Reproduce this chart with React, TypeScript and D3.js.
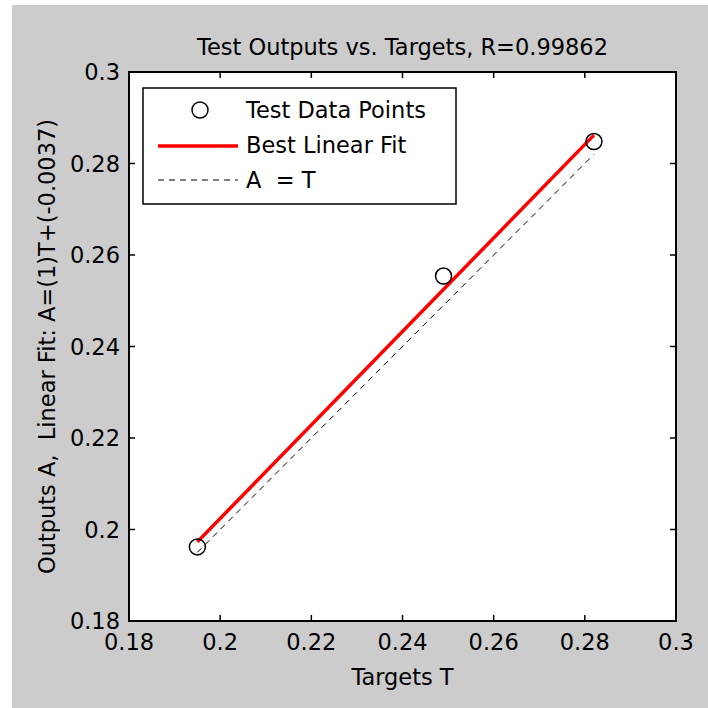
import React from 'react';
import * as d3 from 'd3';

// test data points
const targets = [0.195, 0.249, 0.282];
const outputs = [0.1962, 0.2554, 0.2848];

// best linear fit end points
const fitT = [0.195, 0.282];
const fitA = [0.1973, 0.2862];

const xTicks = [0.18, 0.2, 0.22, 0.24, 0.26, 0.28, 0.3];
const yTicks = [0.18, 0.2, 0.22, 0.24, 0.26, 0.28, 0.3];

const titleText = 'Test Outputs vs. Targets, R=0.99862';
const xLabel = 'Targets T';
const yLabel = 'Outputs A,  Linear Fit: A=(1)T+(-0.0037)';
const legendLabels = ['Test Data Points', 'Best Linear Fit', 'A  = T'];

const W = 708;
const H = 708;
const left = 129, right = 676, top = 72, bottom = 621;
const FONT = '"DejaVu Sans", sans-serif';
const FS = 22.5;
const TICK = 6;

export default function App() {
  const x = d3.scaleLinear().domain([0.18, 0.3]).range([left, right]);
  const y = d3.scaleLinear().domain([0.18, 0.3]).range([bottom, top]);

  const line = d3.line<number[]>().x(d => x(d[0])).y(d => y(d[1]));
  const fitPts = fitT.map((t, i) => [t, fitA[i]]);
  const idPts = [d3.min(targets)!, d3.max(targets)!].map(t => [t, t]);
  const fmt = (v: number) => String(+v.toFixed(2));

  return (
    <div>
      <style>{`body{margin:0}`}</style>
      <svg width={W} height={H} style={{ display: 'block' }} fontFamily={FONT}>
        <rect x={0} y={0} width={W} height={H} fill="#fff" />
        <rect x={12} y={5} width={W - 12} height={H - 5} fill="#cccccc" />
        <rect x={left} y={top} width={right - left} height={bottom - top} fill="#fff" />

        {/* ticks on all four sides, pointing in */}
        {xTicks.map(t => (
          <g key={'xt' + t}>
            <line x1={x(t)} x2={x(t)} y1={bottom} y2={bottom - TICK} stroke="#000" strokeWidth={1.5} />
            <line x1={x(t)} x2={x(t)} y1={top} y2={top + TICK} stroke="#000" strokeWidth={1.5} />
            <text x={x(t)} y={650} textAnchor="middle" fontSize={FS} fill="#000">{fmt(t)}</text>
          </g>
        ))}
        {yTicks.map(t => (
          <g key={'yt' + t}>
            <line x1={left} x2={left + TICK} y1={y(t)} y2={y(t)} stroke="#000" strokeWidth={1.5} />
            <line x1={right} x2={right - TICK} y1={y(t)} y2={y(t)} stroke="#000" strokeWidth={1.5} />
            <text x={120} y={y(t) + 8} textAnchor="end" fontSize={FS} fill="#000">{fmt(t)}</text>
          </g>
        ))}

        {/* A = T reference */}
        <path d={line(idPts) || ''} fill="none" stroke="#000" strokeWidth={1} strokeDasharray="6,5" />
        {/* best linear fit */}
        <path d={line(fitPts) || ''} fill="none" stroke="#ff0000" strokeWidth={3.5} />
        {/* data points */}
        {targets.map((t, i) => (
          <circle key={i} cx={x(t)} cy={y(outputs[i])} r={8} fill="none" stroke="#000" strokeWidth={1.5} />
        ))}

        <rect x={left} y={top} width={right - left} height={bottom - top} fill="none" stroke="#000" strokeWidth={2} />

        {/* legend */}
        <g>
          <rect x={143} y={88} width={313} height={116} fill="#fff" stroke="#000" strokeWidth={1.5} />
          <circle cx={200} cy={110} r={8} fill="none" stroke="#000" strokeWidth={1.5} />
          <line x1={158} x2={238} y1={146} y2={146} stroke="#ff0000" strokeWidth={3.5} />
          <line x1={158} x2={238} y1={180} y2={180} stroke="#000" strokeWidth={1} strokeDasharray="6,5" />
          {legendLabels.map((l, i) => (
            <text key={l} x={246} y={118 + i * 35} fontSize={FS} fill="#000" style={{ whiteSpace: 'pre' }}>{l}</text>
          ))}
        </g>

        <text x={(left + right) / 2} y={55} textAnchor="middle" fontSize={FS} fill="#000">{titleText}</text>
        <text x={(left + right) / 2} y={685} textAnchor="middle" fontSize={FS} fill="#000">{xLabel}</text>
        <text transform={`translate(55,${(top + bottom) / 2}) rotate(-90)`} textAnchor="middle" fontSize={FS} fill="#000" style={{ whiteSpace: 'pre' }}>{yLabel}</text>
      </svg>
    </div>
  );
}
